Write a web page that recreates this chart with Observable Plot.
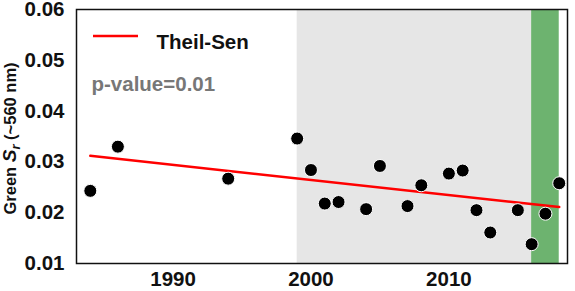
<!DOCTYPE html>
<html>
<head>
<meta charset="utf-8">
<script src="https://cdn.jsdelivr.net/npm/d3@7"></script>
<script src="https://cdn.jsdelivr.net/npm/@observablehq/plot@0.6"></script>
<style>
  html, body { margin: 0; padding: 0; background: #fff; }
  #chart svg { display: block; }
</style>
</head>
<body>
<div id="chart"></div>
<script>
const years  = [1984, 1986, 1994, 1999, 2000, 2001, 2002, 2004, 2005, 2007, 2008, 2010, 2011, 2012, 2013, 2015, 2016, 2017, 2018];
const values = [0.0243, 0.0330, 0.0267, 0.0346, 0.0284, 0.0218, 0.0221, 0.0207, 0.0292, 0.0213, 0.0254, 0.0277, 0.0283, 0.0205, 0.0161, 0.0205, 0.0138, 0.0198, 0.0258];
const trendYears  = [1984, 2018];
const trendValues = [0.0312, 0.0211];
const spanStart = [1999, 2016];
const spanEnd   = [2016, 2018];
const spanFill  = ["#e6e6e6", "#6db36f"];
const xTicks = [1990, 2000, 2010];
const yTicks = [0.01, 0.02, 0.03, 0.04, 0.05, 0.06];
const legendLabel = "Theil-Sen";
const pLabel = "p-value=0.01";

const points = years.map((y, i) => ({year: y, value: values[i]}));
const trend = trendYears.map((y, i) => ({year: y, value: trendValues[i]}));
const spans = spanStart.map((s, i) => ({x1: s, x2: spanEnd[i], fill: spanFill[i]}));

const font = "'Liberation Sans', Arial, sans-serif";

const chart = Plot.plot({
  width: 575,
  height: 291,
  marginLeft: 76,
  marginRight: 8,
  marginTop: 9,
  marginBottom: 28,
  style: {fontFamily: font, fontWeight: "bold", fontSize: "20.5px", color: "#111", background: "#fff", overflow: "visible"},
  x: {domain: [1983, 2018.6], ticks: xTicks, tickFormat: d3.format("d"), tickSize: 0, tickPadding: 8, label: null},
  y: {domain: [0.01, 0.06], ticks: yTicks, tickFormat: d3.format(".2f"), tickSize: 0, tickPadding: 12, label: null},
  marks: [
    Plot.rect(spans, {x1: "x1", x2: "x2", y1: 0.01, y2: 0.06, fill: d => d.fill}),
    Plot.line(trend, {x: "year", y: "value", stroke: "#ff0000", strokeWidth: 2.5}),
    Plot.dot(points, {x: "year", y: "value", r: 6.5, fill: "#000", stroke: "#fff", strokeWidth: 1}),
    Plot.frame({stroke: "#111", strokeWidth: 1.5}),
    Plot.axisX({ticks: xTicks, tickFormat: d3.format("d"), tickSize: 0, tickPadding: 8, fontSize: 20.5, fontWeight: "bold", fill: "#111"}),
    Plot.axisY({ticks: yTicks, tickFormat: d3.format(".2f"), tickSize: 0, tickPadding: 12, fontSize: 20.5, fontWeight: "bold", fill: "#111"}),
    Plot.text([legendLabel], {text: d => d, frameAnchor: "top-left", dx: 80, dy: 25, textAnchor: "start", fontSize: 20.5, fontWeight: "bold", fill: "#111"}),
    Plot.text([pLabel], {text: d => d, frameAnchor: "top-left", dx: 15, dy: 67, textAnchor: "start", fontSize: 20.5, fontWeight: "bold", fill: "#777"})
  ]
});

document.getElementById("chart").appendChild(chart);

const svg = d3.select(chart);
// legend swatch
svg.append("line")
  .attr("x1", 93).attr("x2", 138).attr("y1", 36).attr("y2", 36)
  .attr("stroke", "#ff0000").attr("stroke-width", 2.5);

// y axis label with italic S and subscript r
const yl = svg.append("text")
  .attr("transform", "translate(16,138.5) rotate(-90)")
  .attr("text-anchor", "middle")
  .attr("font-family", font)
  .attr("font-size", 16.5)
  .attr("font-weight", "bold")
  .attr("fill", "#111");
yl.append("tspan").text("Green ");
yl.append("tspan").attr("font-style", "italic").attr("font-size", 19).text("S");
yl.append("tspan").attr("font-style", "italic").attr("font-size", 13).attr("dy", 4).text("r");
yl.append("tspan").attr("dy", -4).text(" (~560 nm)");
</script>
</body>
</html>
